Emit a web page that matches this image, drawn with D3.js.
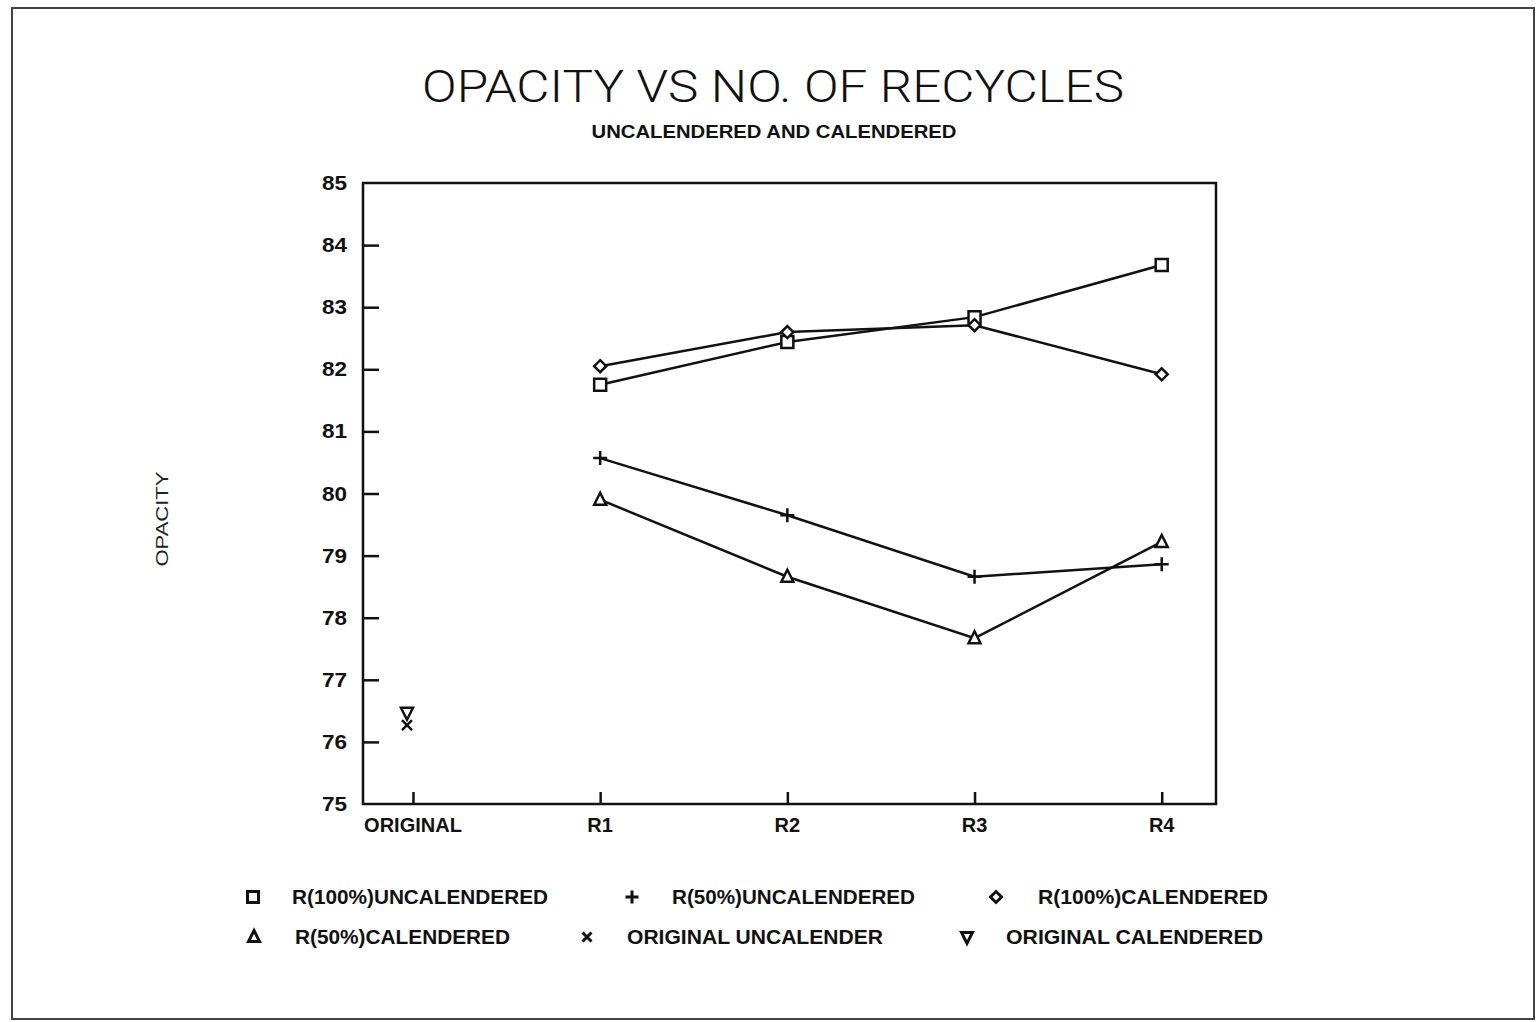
<!DOCTYPE html>
<html>
<head>
<meta charset="utf-8">
<script src="https://cdn.jsdelivr.net/npm/d3@7"></script>
<style>
  html, body { margin: 0; padding: 0; background: #fff; }
  svg { display: block; }
  .bold { font-family: "Liberation Sans", Arial, sans-serif; font-weight: bold; fill: #111; }
</style>
</head>
<body>
<svg id="chart" width="1538" height="1022"></svg>
<script>
// Recycle stages on the x axis
const categories = ["ORIGINAL", "R1", "R2", "R3", "R4"];
const yTicks = [75, 76, 77, 78, 79, 80, 81, 82, 83, 84, 85];

// Opacity by stage (null = not measured at that stage)
const r100Uncal = [null, 81.75, 82.44, 82.84, 83.68];
const r50Uncal  = [null, 80.57, 79.65, 78.66, 78.86];
const r100Cal   = [null, 82.05, 82.60, 82.71, 81.92];
const r50Cal    = [null, 79.90, 78.66, 77.67, 79.22];
const origUncal = [76.27, null, null, null, null];
const origCal   = [76.47, null, null, null, null];

const series = [
  { name: "R(100%)UNCALENDERED", values: r100Uncal, symbol: "square" },
  { name: "R(50%)UNCALENDERED",  values: r50Uncal,  symbol: "plus" },
  { name: "R(100%)CALENDERED",   values: r100Cal,   symbol: "diamond" },
  { name: "R(50%)CALENDERED",    values: r50Cal,    symbol: "triangle" },
  { name: "ORIGINAL UNCALENDER", values: origUncal, symbol: "cross" },
  { name: "ORIGINAL CALENDERED", values: origCal,   symbol: "triangleDown" }
];

const svg = d3.select("#chart");

// page frame
svg.append("rect")
  .attr("x", 12).attr("y", 8).attr("width", 1522).attr("height", 1011)
  .attr("fill", "none").attr("stroke", "#444").attr("stroke-width", 2);

const plot = { left: 363, right: 1216, top: 183, bottom: 804 };

const x = d3.scaleLinear().domain([-0.267, 4.29]).range([plot.left, plot.right]);
const y = d3.scaleLinear().domain([75, 85]).range([plot.bottom, plot.top]);

// marker shapes
function markerPath(type, s) {
  const h = s / 2;
  switch (type) {
    case "square": return `M${-h},${-h}H${h}V${h}H${-h}Z`;
    case "diamond": return `M0,${-h}L${h},0L0,${h}L${-h},0Z`;
    case "triangle": return `M0,${-h - 1}L${h},${h - 1}L${-h},${h - 1}Z`;
    case "triangleDown": return `M${-h},${-h + 1}L${h},${-h + 1}L0,${h + 1}Z`;
    case "plus": return `M${-h - 1},0H${h + 1}M0,${-h - 1}V${h + 1}`;
    case "cross": return `M${-h + 1},${-h + 1}L${h - 1},${h - 1}M${h - 1},${-h + 1}L${-h + 1},${h - 1}`;
  }
}
function drawMarker(g, type, cx, cy, s, w) {
  g.append("path")
    .attr("d", markerPath(type, s))
    .attr("transform", `translate(${cx},${cy})`)
    .attr("fill", (type === "plus" || type === "cross") ? "none" : "#fff")
    .attr("stroke", "#111")
    .attr("stroke-width", w);
}

// title and subtitle
svg.append("text")
  .attr("x", 773).attr("y", 102)
  .attr("text-anchor", "middle")
  .attr("font-family", "Roboto, 'DejaVu Sans', sans-serif")
  .attr("font-weight", 300)
  .attr("font-size", 44)
  .attr("textLength", 702).attr("lengthAdjust", "spacingAndGlyphs")
  .attr("fill", "#111")
  .text("OPACITY VS NO. OF RECYCLES");

svg.append("text")
  .attr("class", "bold")
  .attr("x", 774).attr("y", 138)
  .attr("text-anchor", "middle")
  .attr("font-size", 19)
  .attr("textLength", 365).attr("lengthAdjust", "spacingAndGlyphs")
  .text("UNCALENDERED AND CALENDERED");

// y axis title
svg.append("text")
  .attr("transform", "translate(168,519) rotate(-90)")
  .attr("text-anchor", "middle")
  .attr("font-family", "'Liberation Sans', Arial, sans-serif")
  .attr("font-size", 17)
  .attr("textLength", 95).attr("lengthAdjust", "spacingAndGlyphs")
  .attr("fill", "#222")
  .text("OPACITY");

// frame of plot area
const frame = svg.append("g").attr("stroke", "#111").attr("stroke-width", 2.5).attr("fill", "none");
frame.append("path")
  .attr("d", `M${plot.left},${plot.top}H${plot.right}V${plot.bottom}H${plot.left}Z`);

// y axis (ticks pointing inward)
const yAxis = d3.axisRight(y).tickValues(yTicks).tickSize(16).tickFormat("");
const yg = svg.append("g").attr("transform", `translate(${plot.left},0)`).call(yAxis);
yg.select(".domain").remove();
yg.selectAll(".tick line").attr("stroke", "#111").attr("stroke-width", 2.5);
yg.selectAll(".tick")
  .filter(d => d === 75 || d === 85).select("line").remove();

svg.append("g").selectAll("text")
  .data(yTicks).join("text")
  .attr("class", "bold")
  .attr("x", 347).attr("y", d => y(d) + 7)
  .attr("text-anchor", "end")
  .attr("font-size", 20)
  .attr("textLength", 25).attr("lengthAdjust", "spacingAndGlyphs")
  .text(d => d);

// x axis (ticks pointing up from the bottom)
const xAxis = d3.axisTop(x).tickValues(d3.range(categories.length)).tickSize(12).tickFormat("");
const xg = svg.append("g").attr("transform", `translate(0,${plot.bottom})`).call(xAxis);
xg.select(".domain").remove();
xg.selectAll(".tick line").attr("stroke", "#111").attr("stroke-width", 2.5);

svg.append("g").selectAll("text")
  .data(categories).join("text")
  .attr("class", "bold")
  .attr("x", (d, i) => x(i)).attr("y", 832)
  .attr("text-anchor", "middle")
  .attr("font-size", 20)
  .text(d => d);

// series lines and markers
const line = d3.line()
  .defined(d => d.v != null)
  .x(d => x(d.i)).y(d => y(d.v));

const marks = svg.append("g");
series.forEach(s => {
  const pts = s.values.map((v, i) => ({ i, v }));
  marks.append("path")
    .datum(pts)
    .attr("d", line)
    .attr("fill", "none")
    .attr("stroke", "#111")
    .attr("stroke-width", 2.5);
});
series.forEach(s => {
  s.values.forEach((v, i) => {
    if (v == null) return;
    const cx = i === 0 ? x(i) - 6 : x(i);
    drawMarker(marks, s.symbol, cx, y(v), 12, 2.5);
  });
});

// legend
const legendPos = [
  { mx: 253, tx: 292, y: 897, w: 256 },
  { mx: 632, tx: 672, y: 897, w: 243 },
  { mx: 996, tx: 1038, y: 897, w: 230 },
  { mx: 254, tx: 295, y: 937, w: 215 },
  { mx: 587, tx: 627, y: 937, w: 256 },
  { mx: 967, tx: 1006, y: 937, w: 257 }
];
const legend = svg.append("g");
series.forEach((s, k) => {
  const p = legendPos[k];
  drawMarker(legend, s.symbol, p.mx, p.y, 11, 3);
  legend.append("text")
    .attr("class", "bold")
    .attr("x", p.tx).attr("y", p.y + 7)
    .attr("font-size", 20)
    .attr("textLength", p.w).attr("lengthAdjust", "spacingAndGlyphs")
    .text(s.name);
});
</script>
</body>
</html>
